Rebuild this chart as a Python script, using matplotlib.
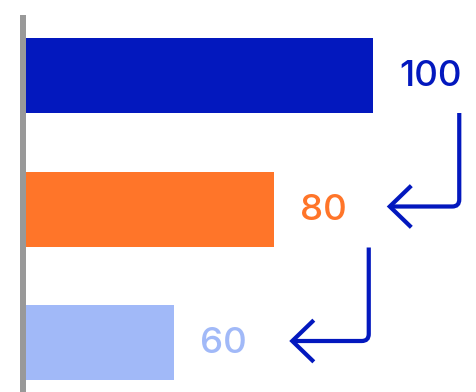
import matplotlib
matplotlib.use("Agg")
import matplotlib.pyplot as plt

# Values shown on each bar, top to bottom
values = [100, 80, 60]
labels = ["100", "80", "60"]
colors = ["#0318BE", "#FF7529", "#A1B9F8"]
arrow_color = "#0318BE"
axis_color = "#999999"

W, H, DPI = 4.77, 3.92, 100
fig = plt.figure(figsize=(W, H), dpi=DPI)
ax = fig.add_axes([0, 0, 1, 1])

x_base = 30.2
px_per_unit = 4.975
left_px = 26
x0 = x_base - left_px / px_per_unit
x1 = x0 + W * DPI / px_per_unit
ax.set_xlim(x0, x1)

row_px = 133.5
y_top = -75.5 / row_px
y_bot = y_top + H * DPI / row_px
ax.set_ylim(y_bot, y_top)
ax.axis("off")

ypos = list(range(len(values)))
ax.barh(ypos, [v - x_base for v in values], left=x_base, height=75 / row_px,
        color=colors, edgecolor="none", zorder=2)

# baseline rule on the left
ax.plot([x_base - 3 / px_per_unit] * 2, [y_top + 15 / row_px, y_bot],
        color=axis_color, lw=6 * 72 / DPI, solid_capstyle="butt", zorder=3)

for y, v, lab, c in zip(ypos, values, labels, colors):
    ax.annotate(lab, (v, y), xytext=(26 * 72 / DPI, -1 * 72 / DPI),
                textcoords="offset points", ha="left", va="center",
                color=c, fontsize=26.5, family=["Inter", "DejaVu Sans"],
                fontweight="medium", zorder=4)

fig.canvas.draw()


def to_px(v, y, dx, dy):
    px, py = ax.transData.transform((v, y))
    return px + dx, py - dy


# elbow arrows stepping down from one value to the next
arrow_specs = [((86, 37.5), (113, -2.5)), ((95, 38.5), (115, -1.5))]
for i, (start_off, tip_off) in enumerate(arrow_specs):
    sx, sy = to_px(values[i], ypos[i], *start_off)
    tx, ty = to_px(values[i + 1], ypos[i + 1], *tip_off)
    ax.annotate("", xy=(tx, ty), xycoords="figure pixels",
                xytext=(sx, sy), textcoords="figure pixels",
                arrowprops=dict(arrowstyle="->,head_length=1.55,head_width=1.5",
                                connectionstyle="angle,angleA=90,angleB=0,rad=7",
                                color=arrow_color, lw=4.2 * 72 / DPI,
                                shrinkA=0, shrinkB=0, mutation_scale=10,
                                capstyle="butt", joinstyle="miter"),
                zorder=4)

fig.savefig("out.png", dpi=DPI, facecolor="white")
